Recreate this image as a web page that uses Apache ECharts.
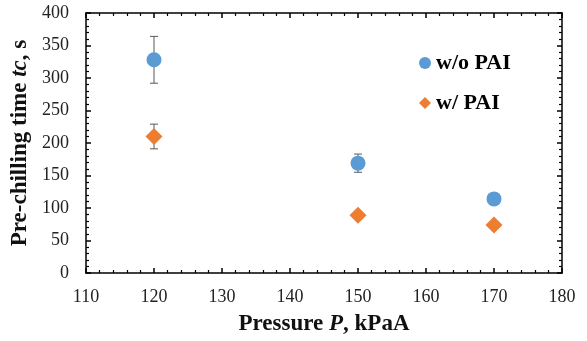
<!DOCTYPE html>
<html>
<head>
<meta charset="utf-8">
<script src="https://cdn.jsdelivr.net/npm/echarts@6/dist/echarts.min.js"></script>
<style>
  html, body { margin: 0; padding: 0; background: #fff; }
  #chart { width: 587px; height: 341px; }
</style>
</head>
<body>
<div id="chart"></div>
<script>
// Pre-chilling time versus pressure, with and without PAI
const pressures = [120, 150, 170];
const withoutPAI = [328, 169, 114];
const withoutPAIErr = [36, 14, 0];
const withPAI = [210, 89, 74];
const withPAIErr = [19, 0, 0];
const xTicks = [110, 120, 130, 140, 150, 160, 170, 180];
const yTicks = [0, 50, 100, 150, 200, 250, 300, 350, 400];

const serif = '"Liberation Serif", "Times New Roman", serif';
const blue = '#5B9BD5';
const orange = '#ED7D31';

function errorBarSeries(vals, errs) {
  return {
    type: 'custom',
    z: 1,
    silent: true,
    data: pressures.map((p, i) => [p, vals[i], errs[i]]),
    renderItem: function (params, api) {
      const e = api.value(2);
      if (!e) return null;
      const x = api.value(0), y = api.value(1);
      const top = api.coord([x, y + e]);
      const bot = api.coord([x, y - e]);
      const cap = 4;
      const style = { stroke: '#595959', lineWidth: 1 };
      return {
        type: 'group',
        children: [
          { type: 'line', shape: { x1: top[0], y1: top[1], x2: bot[0], y2: bot[1] }, style },
          { type: 'line', shape: { x1: top[0] - cap, y1: top[1], x2: top[0] + cap, y2: top[1] }, style },
          { type: 'line', shape: { x1: bot[0] - cap, y1: bot[1], x2: bot[0] + cap, y2: bot[1] }, style }
        ]
      };
    }
  };
}

// Frame axes: every side carries inward major and minor ticks
function frameAxis(extra) {
  return Object.assign({
    type: 'value',
    axisLine: { show: true, onZero: false, lineStyle: { color: '#000', width: 1.5 } },
    axisTick: { show: true, inside: true, length: 5, lineStyle: { color: '#000', width: 1.5 } },
    minorTick: { show: true, splitNumber: 5, length: 3, lineStyle: { color: '#000', width: 1.2 } },
    splitLine: { show: false },
    minorSplitLine: { show: false }
  }, extra);
}

function titleRich() {
  return {
    b: { fontFamily: serif, fontWeight: 'bold', fontSize: 23, color: '#111' },
    bi: { fontFamily: serif, fontWeight: 'bold', fontStyle: 'italic', fontSize: 23, color: '#111' }
  };
}

const chart = echarts.init(document.getElementById('chart'), null, { renderer: 'canvas' });
chart.setOption({
  backgroundColor: '#fff',
  animation: false,
  grid: { left: 86, top: 13, right: 25, bottom: 68, containLabel: false, outerBoundsMode: 'none' },
  legend: {
    orient: 'vertical',
    left: 414,
    top: 47,
    itemGap: 18,
    itemWidth: 12,
    itemHeight: 12,
    data: [
      { name: 'w/o PAI', icon: 'circle' },
      { name: 'w/ PAI', icon: 'diamond' }
    ],
    textStyle: { fontFamily: serif, fontWeight: 'bold', fontSize: 22, color: '#000' }
  },
  xAxis: [
    frameAxis({
      min: xTicks[0], max: xTicks[xTicks.length - 1], interval: 10, position: 'bottom',
      axisLabel: { fontFamily: serif, fontSize: 18, color: '#222', margin: 15 },
      name: '{b|Pressure }{bi|P}{b|, kPaA}',
      nameLocation: 'middle', nameGap: 40,
      nameTextStyle: { rich: titleRich() }
    }),
    frameAxis({
      min: xTicks[0], max: xTicks[xTicks.length - 1], interval: 10, position: 'top',
      axisLabel: { show: false }
    })
  ],
  yAxis: [
    frameAxis({
      min: yTicks[0], max: yTicks[yTicks.length - 1], interval: 50, position: 'left',
      axisLabel: { fontFamily: serif, fontSize: 18, color: '#222', margin: 17 },
      name: '{b|Pre-chilling time }{bi|tc}{b|, s}',
      nameLocation: 'middle', nameGap: 52, nameRotate: 90,
      nameTextStyle: { rich: titleRich() }
    }),
    frameAxis({
      min: yTicks[0], max: yTicks[yTicks.length - 1], interval: 50, position: 'right',
      axisLabel: { show: false }
    })
  ],
  series: [
    errorBarSeries(withoutPAI, withoutPAIErr),
    errorBarSeries(withPAI, withPAIErr),
    {
      name: 'w/o PAI', type: 'scatter', z: 3,
      symbol: 'circle', symbolSize: 15,
      itemStyle: { color: blue, opacity: 1 },
      data: pressures.map((p, i) => [p, withoutPAI[i]])
    },
    {
      name: 'w/ PAI', type: 'scatter', z: 3,
      symbol: 'diamond', symbolSize: 17,
      itemStyle: { color: orange, opacity: 1 },
      data: pressures.map((p, i) => [p, withPAI[i]])
    },
    // Empty series binding the top and right frame axes so they render
    { type: 'scatter', xAxisIndex: 1, yAxisIndex: 1, data: [], silent: true }
  ]
});
</script>
</body>
</html>
